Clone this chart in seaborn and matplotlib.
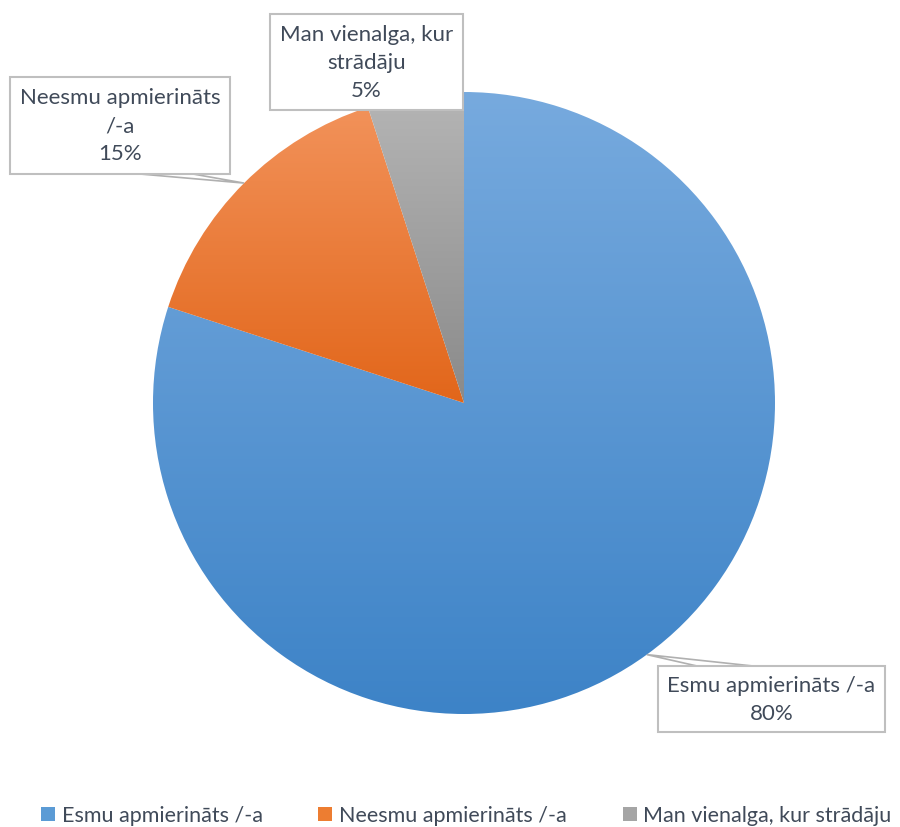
import numpy as np
import matplotlib
matplotlib.use("Agg")
import matplotlib.pyplot as plt
import seaborn as sns
from matplotlib.colors import LinearSegmentedColormap
from matplotlib.patches import Rectangle, Patch

# data
categories = ["Esmu apmierināts /-a", "Neesmu apmierināts /-a", "Man vienalga, kur strādāju"]
label_lines = ["Esmu apmierināts /-a", "Neesmu apmierināts\n/-a", "Man vienalga, kur\nstrādāju"]
values = [80, 15, 5]

# gradient (top, bottom) per slice
grad_colors = [("#77AADE", "#3D83C7"), ("#F2925A", "#E2661A"), ("#B5B5B5", "#8A8A8A")]
mid_colors = ["#5B9BD5", "#ED7D31", "#A5A5A5"]
text_color = "#404A59"

W, H = 900, 828


def Y(y):
    # image row -> data y
    return H - y


sns.set_theme(style="white")
plt.rcParams["font.family"] = ["Lato", "DejaVu Sans"]

fig = plt.figure(figsize=(9, 8.28), dpi=100)
ax = fig.add_axes([0, 0, 1, 1])

cx, cy, r = 464, Y(404), 311
wedges, _ = ax.pie(values, colors=mid_colors, startangle=90, counterclock=False,
                   radius=r, center=(cx, cy), frame=True,
                   wedgeprops=dict(linewidth=0))

# vertical gradient clipped to each slice
for w, (top, bot) in zip(wedges, grad_colors):
    ext = w.get_path().get_extents()
    cmap = LinearSegmentedColormap.from_list("g", [bot, top])
    grad = np.linspace(0, 1, 256).reshape(-1, 1)
    im = ax.imshow(grad, extent=[ext.x0, ext.x1, ext.y0, ext.y1], origin="lower",
                   cmap=cmap, aspect="auto", zorder=1)
    im.set_clip_path(w)
    w.set_facecolor("none")

# label boxes (image coords: x0, y0, x1, y1)
boxes = [(658, 667, 885, 733), (10, 78, 230, 175), (270, 15, 463, 111)]
# pointer base on the box edge (image x positions, y)
pointers = [((697, 667), (753, 667)), ((140, 175), (193, 175)), None]

for i, (w, box) in enumerate(zip(wedges, boxes)):
    x0, y0, x1, y1 = box
    ax.add_patch(Rectangle((x0, Y(y1)), x1 - x0, y1 - y0, facecolor="white",
                           edgecolor="#BFBFBF", linewidth=1.5, zorder=3))
    txt = f"{label_lines[i]}\n{values[i]}%"
    ax.text((x0 + x1) / 2, Y((y0 + y1) / 2), txt, ha="center", va="center",
            fontsize=16, color=text_color, linespacing=1.5, zorder=4)
    if pointers[i] is not None:
        ang = np.deg2rad((w.theta1 + w.theta2) / 2)
        ax_, ay_ = cx + r * np.cos(ang), cy + r * np.sin(ang)
        (px1, py1), (px2, py2) = pointers[i]
        ax.plot([px1, ax_, px2], [Y(py1), ay_, Y(py2)], color="#B0B0B0",
                linewidth=1.2, zorder=2, solid_joinstyle="miter")

ax.set_xlim(0, W)
ax.set_ylim(0, H)
ax.set_aspect("equal")
ax.axis("off")

handles = [Patch(facecolor=c, edgecolor="none") for c in mid_colors]
fig.legend(handles, categories, loc="center", bbox_to_anchor=(0.518, 0.014),
           ncol=3, frameon=False, fontsize=15.5, handlelength=0.65, handleheight=0.65,
           handletextpad=0.3, columnspacing=2.6, labelcolor=text_color)

fig.savefig("out.png", dpi=100, facecolor="white")
